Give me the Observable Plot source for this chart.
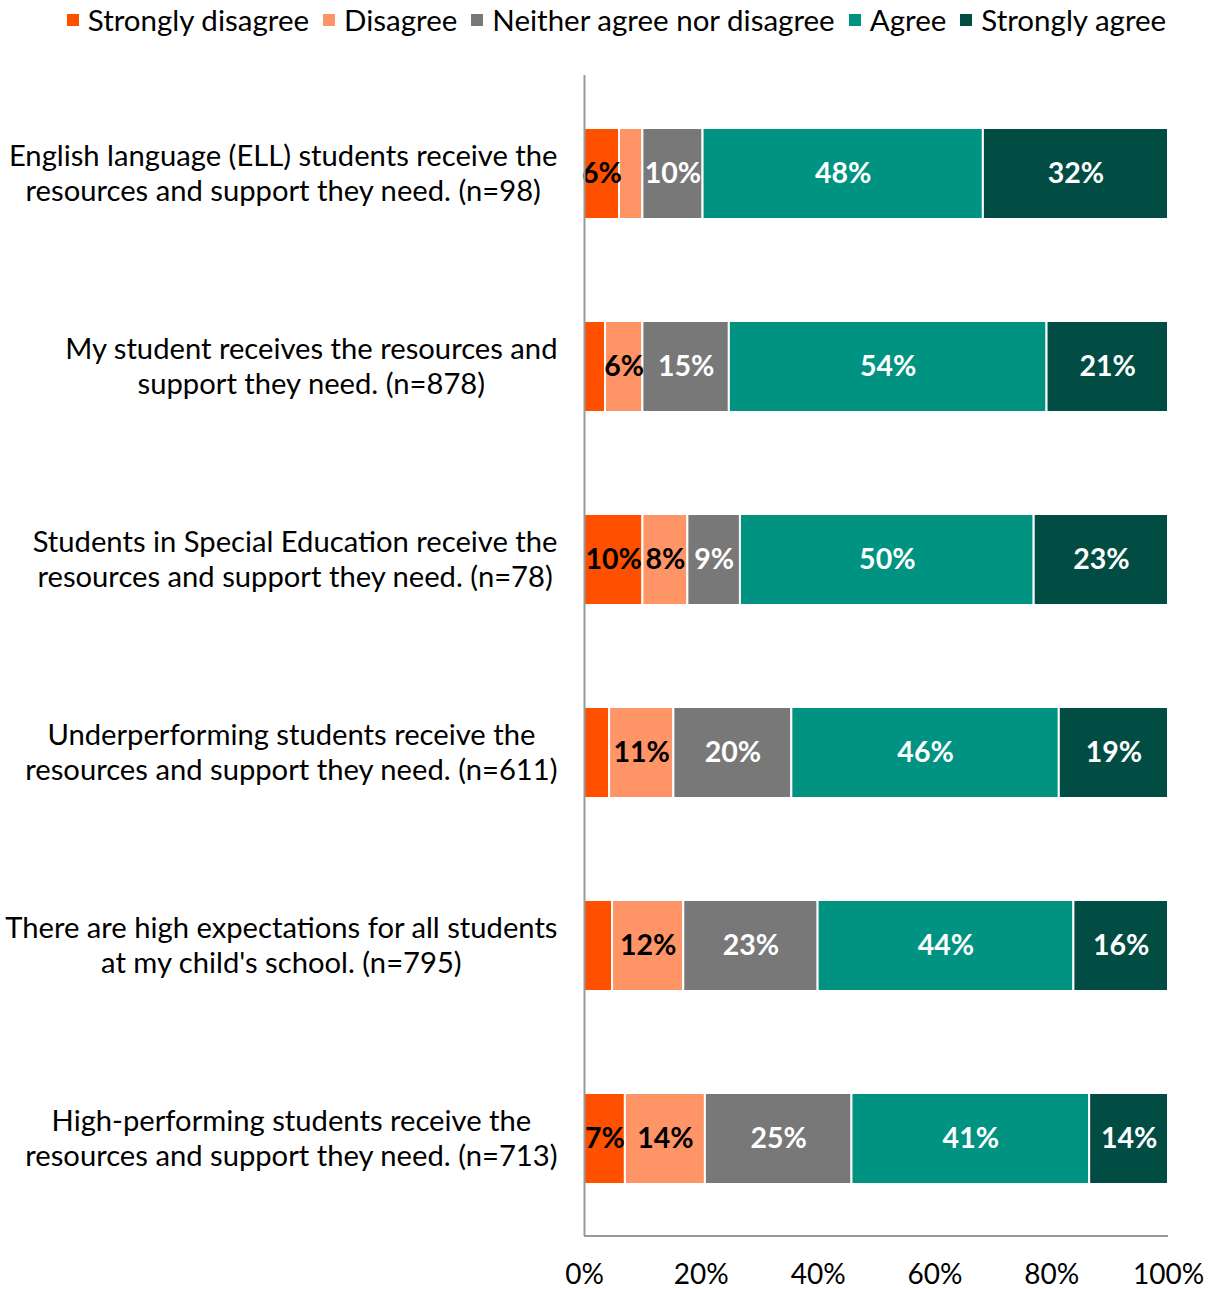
<!DOCTYPE html>
<html>
<head>
<meta charset="utf-8">
<script src="https://cdn.jsdelivr.net/npm/d3@7"></script>
<script src="https://cdn.jsdelivr.net/npm/@observablehq/plot@0.6"></script>
<style>
  body { margin: 0; background: #fff; font-family: Lato, "Open Sans", sans-serif; overflow: hidden; }
  #legend { height: 45px; display: flex; justify-content: center; align-items: center; gap: 14px; font-size: 29.5px; color: #000; padding-left: 18px; padding-bottom: 6px; box-sizing: border-box; }
  #legend span.item { display: inline-flex; align-items: center; white-space: nowrap; }
  #legend i { display: inline-block; width: 12px; height: 12px; margin-right: 9px; }
  #chart svg { display: block; overflow: visible; }
</style>
</head>
<body>
<div id="legend"></div>
<div id="chart"></div>
<script>
const statements = [
  "English language (ELL) students receive the\nresources and support they need. (n=98)",
  "My student receives the resources and\nsupport they need. (n=878)",
  "Students in Special Education receive the\nresources and support they need. (n=78)",
  "Underperforming students receive the\nresources and support they need. (n=611)",
  "There are high expectations for all students\nat my child's school. (n=795)",
  "High-performing students receive the\nresources and support they need. (n=713)"
];
const responses = ["Strongly disagree", "Disagree", "Neither agree nor disagree", "Agree", "Strongly agree"];
const colors = ["#FF5000", "#FF9466", "#787878", "#009381", "#014D43"];
const labelColors = ["#000", "#000", "#fff", "#fff", "#fff"];
const stronglyDisagree = [6, 3.6, 10, 4.3, 4.8, 7];
const disagree = [4, 6.4, 7.7, 11, 12.2, 13.7];
const neither = [10.3, 14.8, 9, 20.2, 23, 25.1];
const agree = [48, 54.4, 50.3, 45.8, 43.8, 40.7];
const stronglyAgree = [31.7, 20.8, 23, 18.7, 16.2, 13.5];
const xTicks = [0, 20, 40, 60, 80, 100];

const series = [stronglyDisagree, disagree, neither, agree, stronglyAgree];
const data = [];
statements.forEach((s, i) => {
  series.forEach((vals, j) => {
    data.push({statement: s, response: responses[j], value: vals[i], order: j});
  });
});

// legend
const leg = document.getElementById("legend");
responses.forEach((r, j) => {
  const it = document.createElement("span");
  it.className = "item";
  it.innerHTML = `<i style="background:${colors[j]}"></i>${r}`;
  leg.appendChild(it);
});

const stackOpts = {x: "value", y: "statement", order: (d) => d.order};

const chart = Plot.plot({
  width: 1215,
  height: 1244,
  marginLeft: 584,
  marginRight: 47,
  marginTop: 30,
  marginBottom: 53,
  style: {fontFamily: "Lato, 'Open Sans', sans-serif", background: "#fff", overflow: "visible"},
  x: {domain: [0, 100], ticks: xTicks, tickFormat: (d) => d + "%"},
  y: {domain: statements, paddingInner: 0.53, paddingOuter: 0.265},
  color: {domain: responses, range: colors},
  marks: [
    Plot.barX(data, Plot.stackX({...stackOpts, fill: "response", stroke: "#fff", strokeWidth: 2})),
    Plot.text(data, Plot.stackX({
      ...stackOpts,
      text: (d) => Math.round(d.value) >= 6 ? Math.round(d.value) + "%" : "",
      fill: (d) => labelColors[d.order],
      fontSize: 28.5,
      fontWeight: "bold"
    })),
    Plot.ruleX([0], {stroke: "#999", strokeWidth: 2}),
    Plot.axisX({ticks: xTicks, tickFormat: (d) => d + "%", tickSize: 0, tickPadding: 28, fontSize: 28, color: "#000", label: null}),
    Plot.axisY({tickSize: 0, tickPadding: 27, fontSize: 29.2, color: "#000", label: null, lineHeight: 1.19, dy: -2})
  ]
});
document.getElementById("chart").appendChild(chart);
const svg = d3.select(chart);

// bottom axis line
svg.append("line")
  .attr("x1", 584).attr("x2", 1168)
  .attr("y1", 1191).attr("y2", 1191)
  .attr("stroke", "#999").attr("stroke-width", 2);

// center multi-line y labels (Excel-style)
svg.selectAll("g[aria-label='y-axis tick label'] text").each(function() {
  const tspans = this.querySelectorAll("tspan");
  if (!tspans.length) return;
  let maxW = 0;
  tspans.forEach(ts => { maxW = Math.max(maxW, ts.getComputedTextLength()); });
  this.setAttribute("text-anchor", "middle");
  tspans.forEach(ts => ts.setAttribute("x", -maxW / 2));
});
</script>
</body>
</html>
